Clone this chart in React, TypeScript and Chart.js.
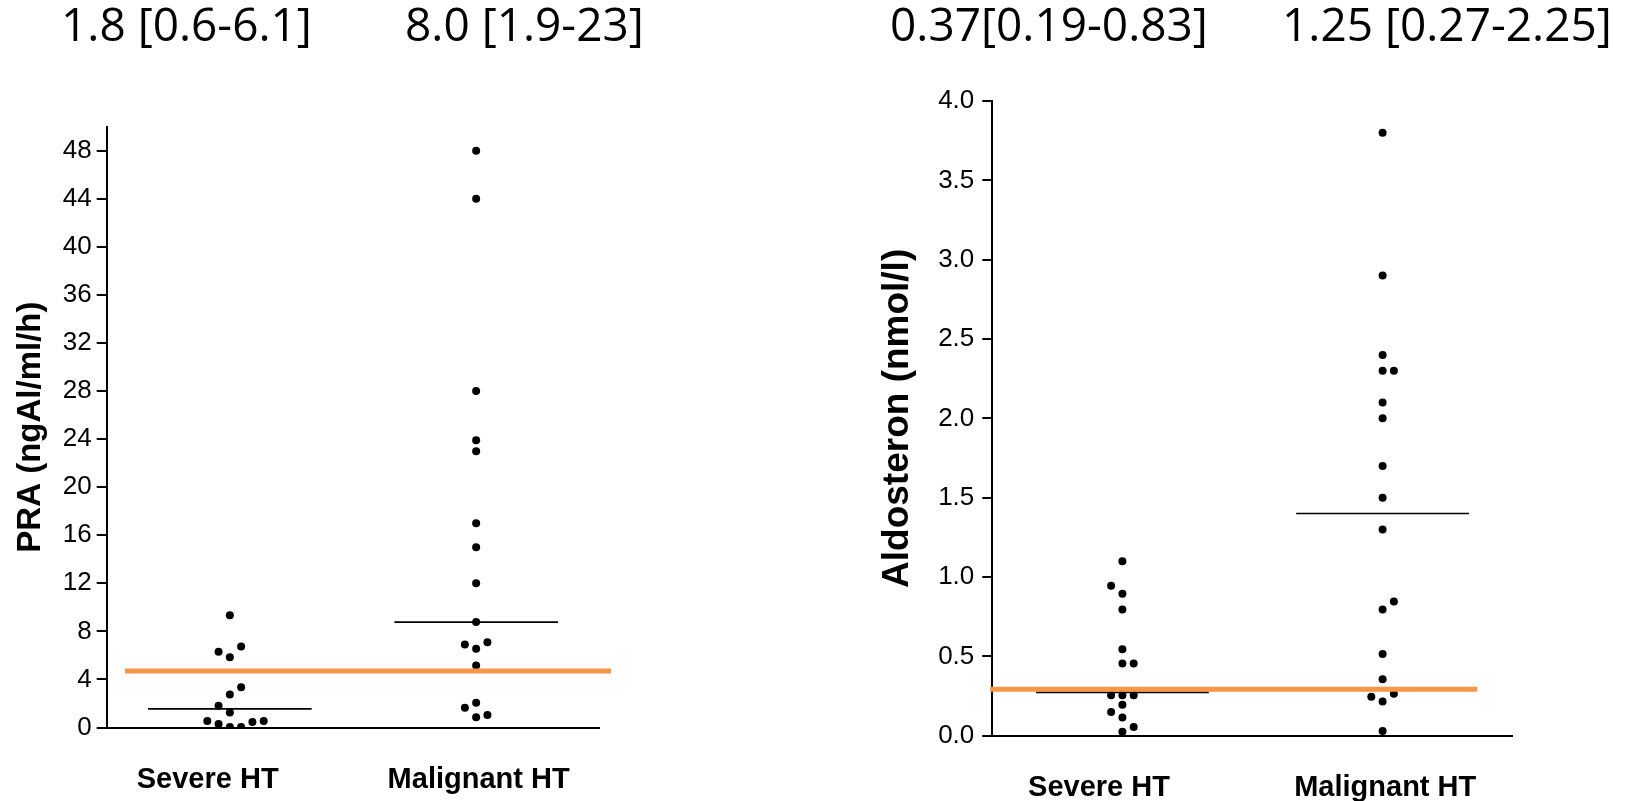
import React, { useEffect, useRef } from 'react';
import { Chart, registerables } from 'chart.js';

Chart.register(...registerables);

// ---------- data ----------
const groupLabels = ['Severe HT', 'Malignant HT'];

// PRA (ngAl/ml/h)
const praTicks = [0, 4, 8, 12, 16, 20, 24, 28, 32, 36, 40, 44, 48];
const praSevere = [9.35, 6.75, 6.3, 5.85, 3.35, 2.75, 1.8, 1.25, 0.55, 0.3, 0.05, 0.05, 0.45, 0.55];
const praSevereCols = [0, 1, -1, 0, 1, 0, -1, 0, -2, -1, 0, 1, 2, 3];
const praMalignant = [48, 44, 28, 23.9, 23, 17, 15, 12, 8.77, 7.1, 6.9, 6.55, 5.15, 2.05, 1.65, 1.05, 0.85];
const praMalignantCols = [0, 0, 0, 0, 0, 0, 0, 0, 0, 1, -1, 0, 0, 0, -1, 1, 0];
const praMedians = [1.55, 8.77];
const praCutoff = 4.7;

// Aldosteron (nmol/l)
const aldoTicks = [0, 0.5, 1.0, 1.5, 2.0, 2.5, 3.0, 3.5, 4.0];
const aldoSevere = [1.1, 0.945, 0.895, 0.795, 0.545, 0.455, 0.455, 0.255, 0.255, 0.255, 0.195, 0.15, 0.115, 0.055, 0.025];
const aldoSevereCols = [0, -1, 0, 0, 0, 0, 1, -1, 0, 1, 0, -1, 0, 1, 0];
const aldoMalignant = [3.8, 2.9, 2.4, 2.3, 2.3, 2.1, 2.0, 1.7, 1.5, 1.3, 0.845, 0.795, 0.515, 0.355, 0.265, 0.245, 0.215, 0.03];
const aldoMalignantCols = [0, 0, 0, 0, 1, 0, 0, 0, 0, 0, 1, 0, 0, 0, 1, -1, 0, 0];
const aldoMedians = [0.273, 1.4];
const aldoCutoff = 0.292;

// header texts: median [IQR]
const headerTexts = ['1.8 [0.6-6.1]', '8.0 [1.9-23]', '0.37[0.19-0.83]', '1.25 [0.27-2.25]'];

// ---------- layout / style ----------
const FONT = "'Liberation Sans', Arial, Helvetica, sans-serif";
const ORANGE = '#F79646';
const groupCenters = [2.5, 7.5];
const labelCenters = [2.05, 7.55];
const medianHalf = 1.66;

Chart.defaults.font.family = FONT;
Chart.defaults.color = '#000';

type PanelSpec = {
  left: number;
  width: number;
  height: number;
  padTop: number;
  padRight: number;
  yWidth: number;
  xHeight: number;
  yMax: number;
  yTicks: number[];
  decimals: number;
  tickPad: number;
  labelPad: number;
  title: string;
  titleSize: number;
  titlePadTop: number;
  colStep: number;
  severe: number[];
  severeCols: number[];
  malignant: number[];
  malignantCols: number[];
  medians: number[];
  cutoff: number;
  cutoffFrom: number;
  cutoffTo: number;
};

const panels: PanelSpec[] = [
  {
    left: 0, width: 640, height: 801,
    padTop: 126.7, padRight: 40.7, yWidth: 106.7, xHeight: 73.5,
    yMax: 50, yTicks: praTicks, decimals: 0, tickPad: 5, labelPad: 35,
    title: 'PRA (ngAl/ml/h)', titleSize: 33, titlePadTop: 11,
    colStep: 0.229,
    severe: praSevere, severeCols: praSevereCols,
    malignant: praMalignant, malignantCols: praMalignantCols,
    medians: praMedians, cutoff: praCutoff, cutoffFrom: 0.37, cutoffTo: 10.24,
  },
  {
    left: 820, width: 817, height: 801,
    padTop: 101, padRight: 124.3, yWidth: 172.3, xHeight: 65.3,
    yMax: 4, yTicks: aldoTicks, decimals: 1, tickPad: 8, labelPad: 35,
    title: 'Aldosteron (nmol/l)', titleSize: 37, titlePadTop: 56,
    colStep: 0.217,
    severe: aldoSevere, severeCols: aldoSevereCols,
    malignant: aldoMalignant, malignantCols: aldoMalignantCols,
    medians: aldoMedians, cutoff: aldoCutoff, cutoffFrom: -0.04, cutoffTo: 9.32,
  },
];

const headerLefts = [61, 405, 890, 1282];

function dots(values: number[], cols: number[], center: number, step: number) {
  return values.map((v, i) => ({ x: center + cols[i] * step, y: v }));
}

function buildConfig(p: PanelSpec): any {
  const dotStyle = {
    showLine: false,
    pointRadius: 4,
    pointHoverRadius: 4,
    pointBackgroundColor: '#000',
    pointBorderColor: '#000',
    pointBorderWidth: 0,
  };
  const lineStyle = (color: string, width: number) => ({
    showLine: true,
    pointRadius: 0,
    pointHoverRadius: 0,
    borderColor: color,
    backgroundColor: color,
    borderWidth: width,
    fill: false,
  });
  return {
    type: 'scatter',
    data: {
      datasets: [
        {
          label: 'cutoff',
          data: [
            { x: p.cutoffFrom, y: p.cutoff },
            { x: p.cutoffTo, y: p.cutoff },
          ],
          ...lineStyle(ORANGE, 5),
          clip: false,
        },
        { label: groupLabels[0], data: dots(p.severe, p.severeCols, groupCenters[0], p.colStep), ...dotStyle },
        { label: groupLabels[1], data: dots(p.malignant, p.malignantCols, groupCenters[1], p.colStep), ...dotStyle },
        {
          label: 'median ' + groupLabels[0],
          data: [
            { x: groupCenters[0] - medianHalf, y: p.medians[0] },
            { x: groupCenters[0] + medianHalf, y: p.medians[0] },
          ],
          ...lineStyle('#000', 1.6),
        },
        {
          label: 'median ' + groupLabels[1],
          data: [
            { x: groupCenters[1] - medianHalf, y: p.medians[1] },
            { x: groupCenters[1] + medianHalf, y: p.medians[1] },
          ],
          ...lineStyle('#000', 1.6),
        },
      ],
    },
    options: {
      responsive: false,
      animation: false,
      devicePixelRatio: 1,
      layout: { padding: { top: p.padTop, right: p.padRight, bottom: 0, left: 0 } },
      plugins: { legend: { display: false }, tooltip: { enabled: false }, title: { display: false } },
      events: [],
      scales: {
        x: {
          type: 'linear',
          position: 'bottom',
          min: 0,
          max: 10,
          grid: { display: false, drawTicks: false },
          border: { display: true, color: '#000', width: 2 },
          afterBuildTicks: (scale: any) => {
            scale.ticks = labelCenters.map((v) => ({ value: v }));
          },
          afterFit: (scale: any) => {
            scale.height = p.xHeight;
          },
          ticks: {
            autoSkip: false,
            maxRotation: 0,
            minRotation: 0,
            padding: p.labelPad,
            color: '#000',
            font: { family: FONT, size: 29, weight: 'bold' },
            callback: (_v: any, i: number) => groupLabels[i],
          },
        },
        y: {
          type: 'linear',
          position: 'left',
          min: 0,
          max: p.yMax,
          grid: {
            display: true,
            drawOnChartArea: false,
            drawTicks: true,
            tickLength: 10,
            color: '#000',
            lineWidth: 2,
          },
          border: { display: true, color: '#000', width: 2 },
          afterBuildTicks: (scale: any) => {
            scale.ticks = p.yTicks.map((v) => ({ value: v }));
          },
          afterFit: (scale: any) => {
            scale.width = p.yWidth;
          },
          ticks: {
            padding: p.tickPad,
            color: '#000',
            font: { family: FONT, size: 26 },
            callback: (v: any) => Number(v).toFixed(p.decimals),
          },
          title: {
            display: true,
            text: p.title,
            color: '#000',
            font: { family: FONT, size: p.titleSize, weight: 'bold' },
            padding: { top: p.titlePadTop, bottom: 0 },
          },
        },
      },
    },
  };
}

function Panel({ spec }: { spec: PanelSpec }) {
  const ref = useRef<HTMLCanvasElement>(null);
  useEffect(() => {
    if (!ref.current) return;
    const chart = new Chart(ref.current, buildConfig(spec));
    return () => chart.destroy();
  }, [spec]);
  return (
    <canvas
      ref={ref}
      width={spec.width}
      height={spec.height}
      style={{ position: 'absolute', left: spec.left, top: 0, width: spec.width, height: spec.height }}
    />
  );
}

export default function App() {
  return (
    <div
      style={{
        position: 'absolute',
        left: 0,
        top: 0,
        width: 1637,
        height: 801,
        background: '#fff',
        overflow: 'hidden',
      }}
    >
      {panels.map((p, i) => (
        <Panel key={i} spec={p} />
      ))}
      {headerTexts.map((t, i) => (
        <div
          key={'h' + i}
          style={{
            position: 'absolute',
            left: headerLefts[i],
            top: 0,
            fontFamily: "'Open Sans', 'Noto Sans', sans-serif",
            fontSize: 46,
            lineHeight: '46px',
            color: '#000',
            whiteSpace: 'nowrap',
          }}
        >
          {t}
        </div>
      ))}
    </div>
  );
}
